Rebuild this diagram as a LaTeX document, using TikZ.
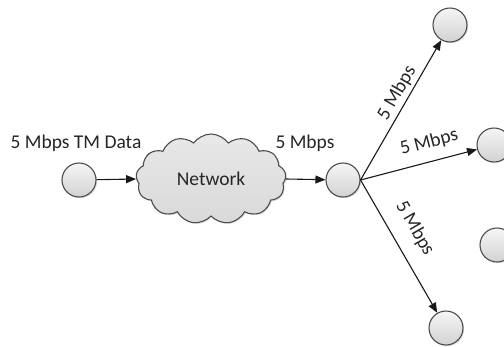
\documentclass[tikz,border=0pt]{standalone}
\usepackage{fontspec}
\setmainfont{Carlito}
\usetikzlibrary{shapes.symbols,arrows.meta,shadows}
\begin{document}
\begin{tikzpicture}[x=1pt,y=-1pt,
  every node/.style={font=\fontsize{19.5}{23}\selectfont, text=black!85},
  host/.style={circle, draw=black!70, line width=1.1pt, minimum size=34pt, inner sep=0pt,
    top color=gray!8, bottom color=gray!35,
    drop shadow={opacity=0.25, shadow xshift=1.2pt, shadow yshift=-1.2pt}},
  netcloud/.style={cloud, draw=black!70, line width=1.1pt, cloud puffs=13, cloud puff arc=110,
    cloud ignores aspect, minimum width=150pt, minimum height=90pt, inner sep=0pt,
    top color=gray!18, bottom color=gray!30,
    drop shadow={opacity=0.25, shadow xshift=1.2pt, shadow yshift=-1.2pt}},
  link/.style={line width=1.1pt, draw=black!90, -{Triangle[length=10pt,width=8pt]}},
  lbl/.style={inner sep=2pt}
]
\useasboundingbox (0,0) rectangle (504,346);
\node[host] (c1) at (79,180) {};
\node[netcloud] (net) at (211,179) {Network};
\node[host] (c2) at (343,180) {};
\node[host] (t1) at (450,25) {};
\node[host] (t2) at (494,145) {};
\node[host] (t3) at (497,245) {};
\node[host] (t4) at (446,328) {};
\node[lbl] (l1) at (76,143) {5 Mbps TM Data};
\node[lbl] (l2) at (305,143) {5 Mbps};
\draw[link] (c1) -- (net.west);
\draw[link] (net.east) -- (c2);
\draw[link] (c2.east) -- node[pos=0.58, sloped, above=1pt, lbl] (la) {5 Mbps} (t1);
\draw[link] (c2.east) -- node[pos=0.63, sloped, above=8pt, lbl] (lb) {5 Mbps} (t2);
\draw[link] (c2.east) -- node[pos=0.45, sloped, above=12pt, lbl] (lc) {5 Mbps} (t4);
\end{tikzpicture}
\end{document}
